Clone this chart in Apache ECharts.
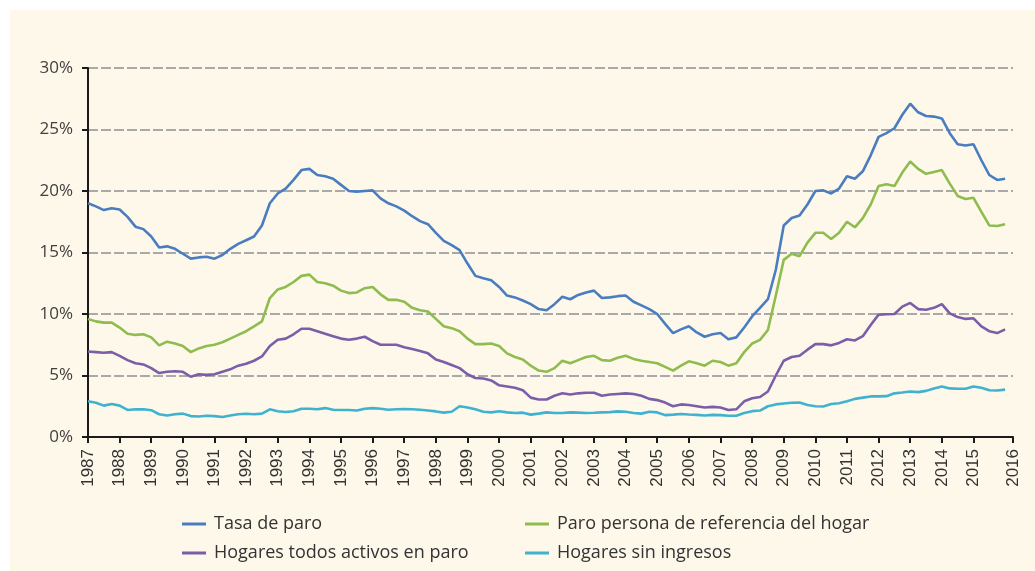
<!DOCTYPE html>
<html><head><meta charset="utf-8">
<script src="https://cdn.jsdelivr.net/npm/echarts@6/dist/echarts.min.js"></script>
<style>
html,body{margin:0;padding:0;background:#fff;}
#bg{position:absolute;left:10px;top:10px;width:1025px;height:561px;background:#fef8ea;}
#chart{position:absolute;left:0;top:0;width:1035px;height:571px;}
</style></head>
<body><div id="bg"></div><div id="chart"></div>
<script>
const years = ['1987','1988','1989','1990','1991','1992','1993','1994','1995','1996','1997','1998','1999','2000','2001','2002','2003','2004','2005','2006','2007','2008','2009','2010','2011','2012','2013','2014','2015','2016'];
const seriesNames = ['Tasa de paro','Paro persona de referencia del hogar','Hogares todos activos en paro','Hogares sin ingresos'];
const tasaParo = [19.0,18.75,18.45,18.6,18.5,17.9,17.1,16.9,16.3,15.4,15.5,15.3,14.9,14.5,14.6,14.65,14.5,14.8,15.3,15.7,16.0,16.3,17.2,19.0,19.8,20.2,20.9,21.7,21.8,21.3,21.2,21.0,20.5,20.0,19.95,20.0,20.05,19.4,19.0,18.75,18.4,17.95,17.55,17.3,16.6,15.95,15.6,15.2,14.1,13.1,12.9,12.75,12.2,11.5,11.35,11.1,10.8,10.4,10.3,10.8,11.4,11.2,11.55,11.75,11.9,11.3,11.35,11.45,11.5,11.0,10.7,10.4,10.0,9.2,8.45,8.75,9.0,8.5,8.15,8.35,8.45,7.95,8.1,8.9,9.8,10.5,11.2,13.6,17.2,17.8,18.0,18.9,20.0,20.05,19.8,20.2,21.2,21.0,21.6,22.9,24.4,24.7,25.1,26.2,27.1,26.4,26.1,26.05,25.9,24.7,23.8,23.7,23.8,22.5,21.3,20.9,21.0];
const paroReferencia = [9.6,9.4,9.3,9.3,8.9,8.4,8.3,8.35,8.1,7.45,7.75,7.6,7.4,6.9,7.2,7.4,7.5,7.7,8.0,8.3,8.6,9.0,9.4,11.3,12.0,12.2,12.6,13.1,13.2,12.6,12.5,12.3,11.9,11.7,11.75,12.1,12.2,11.6,11.15,11.15,11.0,10.5,10.3,10.2,9.6,9.0,8.85,8.6,8.0,7.55,7.55,7.6,7.4,6.8,6.5,6.3,5.8,5.4,5.3,5.6,6.2,6.0,6.25,6.5,6.6,6.25,6.2,6.45,6.6,6.35,6.2,6.1,6.0,5.7,5.4,5.8,6.15,6.0,5.8,6.2,6.1,5.8,6.0,6.9,7.6,7.9,8.7,11.5,14.4,14.9,14.7,15.8,16.6,16.6,16.1,16.6,17.5,17.05,17.8,18.9,20.4,20.55,20.4,21.5,22.4,21.8,21.4,21.55,21.7,20.6,19.6,19.35,19.45,18.3,17.2,17.15,17.3];
const hogaresActivosParo = [6.95,6.9,6.85,6.9,6.6,6.25,6.0,5.9,5.6,5.2,5.3,5.35,5.3,4.9,5.1,5.05,5.1,5.3,5.5,5.8,5.95,6.2,6.55,7.4,7.9,8.0,8.35,8.8,8.8,8.6,8.4,8.2,8.0,7.9,8.0,8.15,7.8,7.5,7.5,7.5,7.3,7.15,7.0,6.8,6.3,6.1,5.85,5.6,5.1,4.8,4.75,4.6,4.2,4.1,4.0,3.8,3.2,3.05,3.05,3.35,3.55,3.45,3.55,3.6,3.6,3.35,3.45,3.5,3.55,3.5,3.35,3.1,3.0,2.8,2.5,2.65,2.6,2.5,2.4,2.45,2.4,2.2,2.25,2.9,3.15,3.25,3.7,5.0,6.2,6.5,6.6,7.1,7.55,7.55,7.45,7.65,7.95,7.85,8.2,9.1,9.95,9.98,10.0,10.6,10.9,10.4,10.35,10.5,10.8,10.05,9.75,9.6,9.65,9.0,8.6,8.45,8.75];
const hogaresSinIngresos = [2.9,2.78,2.55,2.68,2.55,2.2,2.25,2.25,2.18,1.85,1.75,1.85,1.9,1.7,1.67,1.73,1.7,1.62,1.75,1.85,1.89,1.85,1.9,2.25,2.1,2.03,2.1,2.3,2.3,2.25,2.35,2.22,2.2,2.2,2.15,2.3,2.35,2.3,2.22,2.25,2.27,2.25,2.22,2.15,2.08,1.98,2.05,2.5,2.4,2.25,2.05,2.0,2.1,2.0,1.95,1.98,1.82,1.9,2.0,1.95,1.95,2.0,1.98,1.95,1.97,2.0,2.02,2.08,2.05,1.95,1.9,2.05,2.0,1.78,1.82,1.87,1.83,1.8,1.75,1.8,1.78,1.73,1.73,1.95,2.1,2.15,2.5,2.65,2.72,2.78,2.8,2.6,2.5,2.48,2.68,2.75,2.9,3.1,3.2,3.3,3.3,3.32,3.55,3.62,3.7,3.65,3.75,3.95,4.1,3.95,3.92,3.92,4.1,4.0,3.8,3.78,3.85];
const colors = ['#4a7dc0','#8fbc4f','#7b5ea7','#3fb2cf'];

// quarterly categories 1987T1 .. 2016T2
const categories = [];
for (let y = 1987; y <= 2016; y++) for (let q = 1; q <= 4; q++) if (categories.length < 118) categories.push(y + 'T' + q);
const lastIdx = categories.length - 1;
const showTick = (i) => (i % 4 === 0 && i <= 112) || i === lastIdx;

const chart = echarts.init(document.getElementById('chart'), null, {renderer:'canvas'});
const fam = '"Open Sans", "Noto Sans", sans-serif';
const dataSets = [tasaParo, paroReferencia, hogaresActivosParo, hogaresSinIngresos];
chart.setOption({
  animation:false,
  backgroundColor:'transparent',
  color: colors,
  grid:{left:88, right:22, top:68, bottom:134, containLabel:false},
  xAxis:{
    type:'category', data:categories, boundaryGap:false,
    axisLine:{lineStyle:{color:'#1a1a1a', width:2}},
    axisTick:{show:true, interval:(i)=>showTick(i), length:6, lineStyle:{color:'#1a1a1a', width:2}},
    axisLabel:{interval:(i)=>showTick(i), rotate:90, margin:12, color:'#333', fontSize:17, fontFamily:'"Liberation Sans", sans-serif',
      formatter:(v, i)=> i === lastIdx ? years[years.length-1] : years[i/4]},
    splitLine:{show:false}
  },
  yAxis:{
    type:'value', min:0, max:30, interval:5,
    axisLine:{show:true, lineStyle:{color:'#1a1a1a', width:2}},
    axisTick:{show:true, length:6, lineStyle:{color:'#1a1a1a', width:2}},
    axisLabel:{formatter:'{value}%', color:'#404040', fontSize:17, margin:15, fontFamily:fam},
    splitLine:{show:true, lineStyle:{color:'#a9a9a9', width:2, type:[10,3]}}
  },
  legend:[
    {orient:'vertical', left:177, top:509, itemWidth:24, itemHeight:3, itemGap:9, icon:'rect',
     data:[seriesNames[0], seriesNames[2]],
     textStyle:{color:'#333', fontSize:18, lineHeight:20, fontFamily:fam, padding:[0,0,0,3]}},
    {orient:'vertical', left:520, top:509, itemWidth:24, itemHeight:3, itemGap:9, icon:'rect',
     data:[seriesNames[1], seriesNames[3]],
     textStyle:{color:'#333', fontSize:18, lineHeight:20, fontFamily:fam, padding:[0,0,0,3]}}
  ],
  series: seriesNames.map((n, k) => ({
    name:n, type:'line', data:dataSets[k], showSymbol:false, symbol:'none',
    lineStyle:{width:2.6, color:colors[k]}, itemStyle:{color:colors[k]}, z: 10 - k
  }))
});
</script></body></html>
